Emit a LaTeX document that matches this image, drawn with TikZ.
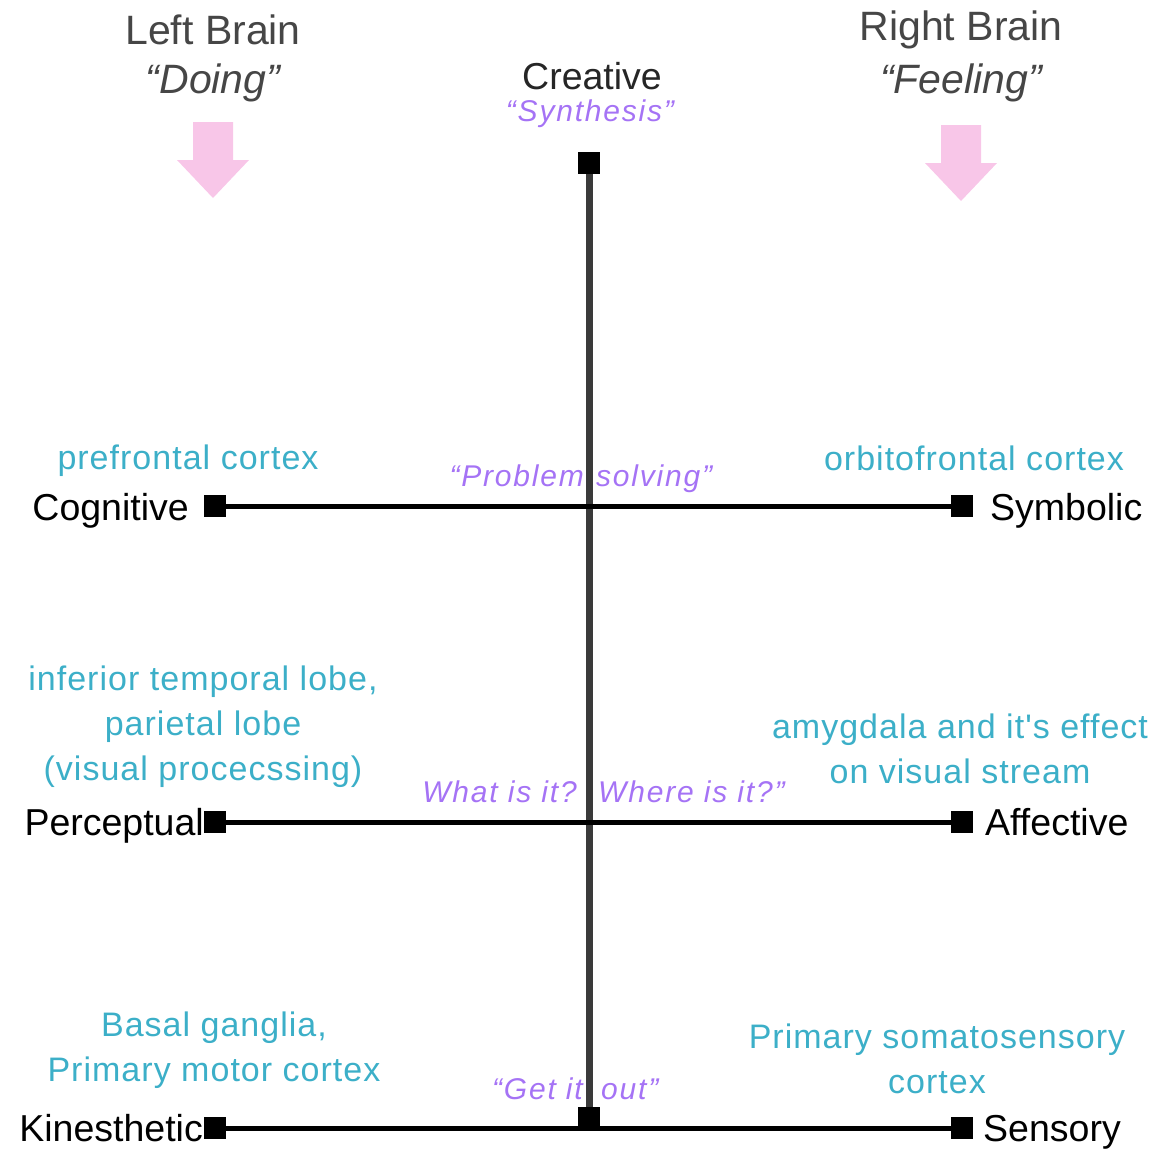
\documentclass[tikz,border=0pt]{standalone}
\usepackage{fontspec}
\setmainfont{Liberation Sans}
\newfontfamily\regionfont[LetterSpace=3]{Liberation Sans}
\newfontfamily\quotefont[LetterSpace=6]{Liberation Sans}
\usetikzlibrary{positioning}
\definecolor{regioncol}{RGB}{60,175,200}
\definecolor{quotecol}{RGB}{165,115,245}
\definecolor{arrowcol}{RGB}{248,198,232}
\definecolor{headcol}{RGB}{70,70,70}
\definecolor{axiscol}{RGB}{58,58,58}
\begin{document}
\begin{tikzpicture}[x=1pt,y=-1pt,
  sq/.style={fill=black,minimum size=22pt,inner sep=0pt},
  lab/.style={font=\fontsize{37.5}{44}\selectfont,text=black,inner sep=0pt},
  region/.style={font=\regionfont\fontsize{34}{45}\selectfont,text=regioncol,align=center,inner sep=0pt},
  quote/.style={font=\quotefont\itshape\fontsize{30}{36}\selectfont,text=quotecol,inner sep=0pt},
  head/.style={font=\fontsize{41}{53}\selectfont,text=headcol,align=center,inner sep=0pt}]

\useasboundingbox (0,0) rectangle (1175,1149);

% titles
\node[head] (lb) at (213,30) {Left Brain};
\node[head,font=\fontsize{41}{53}\selectfont\itshape] (lbq) at (213,83) {“Doing”};
\node[head] (rb) at (961,30) {Right Brain};
\node[head,font=\fontsize{41}{53}\selectfont\itshape] (rbq) at (961,83) {“Feeling”};

% pink arrows
\foreach \cx/\cy in {213/122,961/125}
  \fill[arrowcol] (\cx-20,\cy) -- (\cx+20,\cy) -- (\cx+20,\cy+38) -- (\cx+36,\cy+38)
    -- (\cx,\cy+76) -- (\cx-36,\cy+38) -- (\cx-20,\cy+38) -- cycle;

% end squares
\node[sq] (cre) at (589,163) {};
\node[sq] (bot) at (589,1118) {};
\node[sq] (cog) at (215,506) {};
\node[sq] (sym) at (962,506) {};
\node[sq] (per) at (215,822) {};
\node[sq] (aff) at (962,822) {};
\node[sq] (kin) at (215,1128) {};
\node[sq] (sen) at (962,1128) {};

% axes
\draw[line width=7pt,axiscol] (cre) -- (bot);
\draw[line width=5pt] (cog) -- (sym);
\draw[line width=5pt] (per) -- (aff);
\draw[line width=5pt] (kin) -- (sen);

% axis labels
\node[lab,text=black!85] (crel) at (592,76) {Creative};
\node[lab,anchor=base east] (cogl) at (189,520) {Cognitive};
\node[lab,anchor=base west] (syml) at (990,520) {Symbolic};
\node[lab,anchor=base east] (perl) at (204,835) {Perceptual};
\node[lab,anchor=base west] (affl) at (985,835) {Affective};
\node[lab,anchor=base east] (kinl) at (203,1141) {Kinesthetic};
\node[lab,anchor=base west] (senl) at (983,1141) {Sensory};

% brain regions
\node[region] (pfc) at (188,461) {prefrontal cortex};
\node[region] (ofc) at (974,458) {orbitofrontal cortex};
\node[region] (itl) at (203,727) {inferior temporal lobe,\\parietal lobe\\(visual procecssing)};
\node[region] (amy) at (960,749) {amygdala and it's effect\\on visual stream};
\node[region] (bg) at (214,1050) {Basal ganglia,\\Primary motor cortex};
\node[region] (ssc) at (937,1059) {Primary somatosensory\\cortex};

% purple notes
\node[quote] (syn) at (590,114) {“Synthesis”};
\node[quote,anchor=base east] (ps1) at (584,486) {“Problem};
\node[quote,anchor=base west] (ps2) at (596,486) {solving”};
\node[quote,anchor=base east] (wh1) at (577,802) {What is it?};
\node[quote,anchor=base west] (wh2) at (598,802) {Where is it?”};
\node[quote,anchor=base east] (go1) at (583,1099) {“Get it};
\node[quote,anchor=base west] (go2) at (601,1099) {out”};

\end{tikzpicture}
\end{document}
